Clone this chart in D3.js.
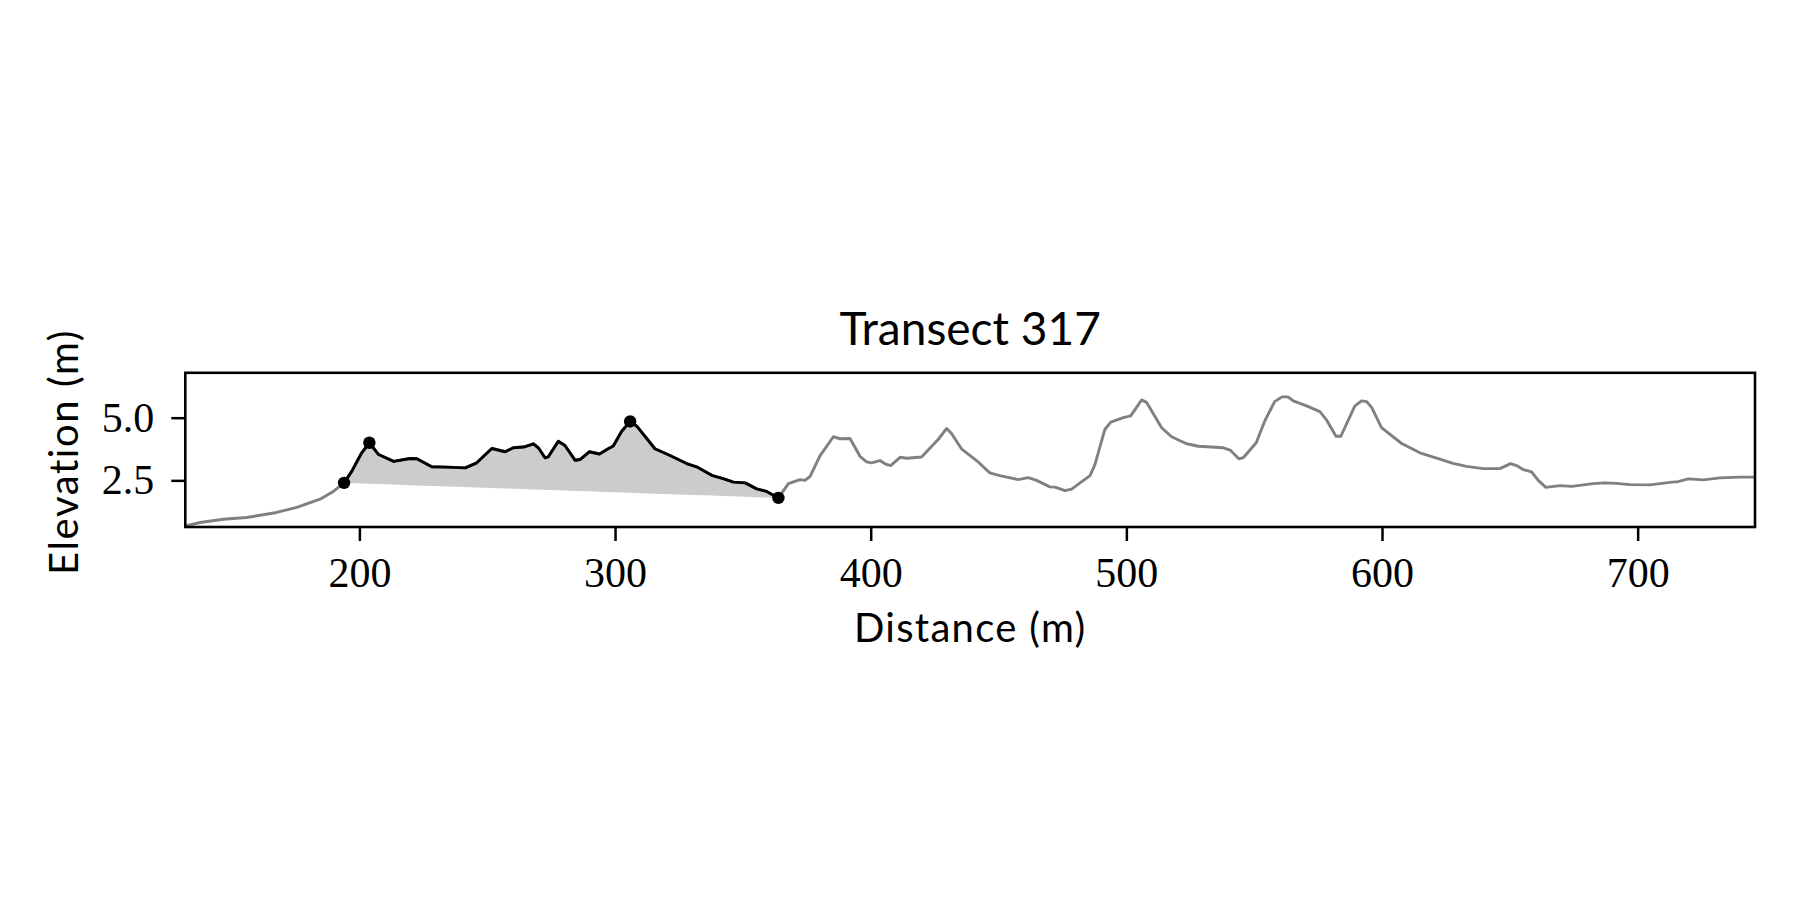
<!DOCTYPE html>
<html><head><meta charset="utf-8">
<script src="https://cdn.jsdelivr.net/npm/d3@7"></script>
<style>
body{margin:0;background:#fff;}
svg{display:block;}
</style></head>
<body>
<svg id="chart" width="1800" height="900"></svg>
<script>
// Transect profile: distance (m) and elevation (m)
const distance = [132.0,137.7,146.8,155.9,167.6,175.5,184.6,189.8,194.0,197.0,200.9,203.9,207.5,213.4,219.8,222.5,228.3,234.2,241.4,245.9,251.8,257.0,260.2,264.2,268.1,270.0,272.6,273.9,277.8,280.4,284.4,286.3,289.9,293.9,296.8,299.3,302.6,305.9,308.5,315.6,321.5,328.0,331.9,337.8,342.3,346.3,350.9,355.4,359.3,363.9,367.8,372.4,374.3,376.3,380.2,385.4,388.0,391.9,395.8,398.4,400.3,403.6,405.6,407.8,411.5,414.1,419.9,424.5,426.4,429.7,431.6,435.5,441.4,446.6,450.5,457.7,461.6,464.9,470.1,472.1,476.0,478.6,481.9,485.8,487.7,491.6,493.9,498.8,501.7,506.0,508.0,513.8,517.7,521.0,523.6,528.2,537.9,540.6,544.0,545.8,550.8,554.1,558.0,560.9,563.2,565.3,570.5,575.7,578.3,582.0,583.9,589.4,592.0,594.0,596.0,599.8,607.7,614.8,622.0,627.8,633.1,639.6,646.1,650.3,652.6,655.2,658.5,661.1,664.1,669.6,674.2,682.6,687.1,691.7,696.9,704.8,712.6,715.8,719.8,725.7,732.2,740.0,745.9];
const elevation = [0.68,0.82,0.95,1.02,1.22,1.42,1.75,2.06,2.40,2.86,3.60,4.00,3.53,3.26,3.37,3.36,3.04,3.03,3.00,3.20,3.77,3.64,3.80,3.83,3.96,3.80,3.40,3.44,4.06,3.89,3.30,3.33,3.64,3.55,3.73,3.87,4.46,4.85,4.66,3.76,3.49,3.17,3.04,2.70,2.57,2.43,2.40,2.16,2.06,1.80,2.37,2.53,2.50,2.66,3.49,4.24,4.16,4.17,3.46,3.24,3.20,3.29,3.16,3.09,3.42,3.38,3.43,3.93,4.13,4.57,4.37,3.76,3.29,2.80,2.69,2.53,2.61,2.50,2.24,2.23,2.09,2.15,2.40,2.69,3.13,4.53,4.82,5.00,5.07,5.71,5.60,4.60,4.24,4.08,3.96,3.86,3.80,3.71,3.36,3.41,4.00,4.86,5.64,5.83,5.83,5.67,5.47,5.24,4.91,4.26,4.26,5.47,5.67,5.64,5.40,4.60,3.97,3.60,3.37,3.18,3.06,2.97,2.97,3.17,3.09,2.93,2.84,2.50,2.22,2.29,2.26,2.37,2.40,2.38,2.33,2.32,2.42,2.45,2.56,2.52,2.60,2.63,2.63];
// Dune segment (start / end distance) and marked points (toe, crest, crest, heel)
const duneStart = 194.0;
const duneEnd = 363.9;
const markers = [194.0, 203.9, 305.9, 363.9];
const xTicks = [200, 300, 400, 500, 600, 700];
const yTicks = [2.5, 5.0];
const title = "Transect 317";
const xLabel = "Distance (m)";
const yLabel = "Elevation (m)";

const svg = d3.select("#chart");
const L = 185.3, R = 1755, T = 372.8, B = 527;
const x = d3.scaleLinear().domain([131.9, 745.9]).range([L, R]);
const y = d3.scaleLinear().domain([0.64, 6.79]).range([B, T]);

const pts = distance.map((d, i) => ({d, e: elevation[i]}));
const dune = pts.filter(p => p.d >= duneStart && p.d <= duneEnd);
const first = dune[0], last = dune[dune.length - 1];
const base = d => first.e + (last.e - first.e) * (d - first.d) / (last.d - first.d);

svg.append("defs").append("clipPath").attr("id", "clip")
  .append("rect").attr("x", L).attr("y", T).attr("width", R - L).attr("height", B - T);

const g = svg.append("g").attr("clip-path", "url(#clip)");

// fill between dune profile and toe-heel line
const area = d3.area().x(p => x(p.d)).y0(p => y(base(p.d))).y1(p => y(p.e));
g.append("path").datum(dune).attr("d", area).attr("fill", "#cccccc");

const line = d3.line().x(p => x(p.d)).y(p => y(p.e));
g.append("path").datum(pts).attr("d", line).attr("fill", "none")
  .attr("stroke", "#808080").attr("stroke-width", 2.9).attr("stroke-linejoin", "round");
g.append("path").datum(dune).attr("d", line).attr("fill", "none")
  .attr("stroke", "#000").attr("stroke-width", 2.9).attr("stroke-linejoin", "round");

const mk = markers.map(m => pts.find(p => p.d === m));
svg.append("g").selectAll("circle").data(mk).join("circle")
  .attr("cx", p => x(p.d)).attr("cy", p => y(p.e)).attr("r", 6.2).attr("fill", "#000");

// axes
const tickFont = "'Liberation Serif', 'Times New Roman', serif";
const xAxis = svg.append("g").attr("transform", `translate(0,${B})`)
  .call(d3.axisBottom(x).tickValues(xTicks).tickFormat(d3.format("d")).tickSize(14).tickSizeOuter(0).tickPadding(16));
const yAxis = svg.append("g").attr("transform", `translate(${L},0)`)
  .call(d3.axisLeft(y).tickValues(yTicks).tickFormat(d3.format(".1f")).tickSize(14).tickSizeOuter(0).tickPadding(17));
[xAxis, yAxis].forEach(a => {
  a.select(".domain").remove();
  a.selectAll(".tick line").attr("stroke", "#000").attr("stroke-width", 2.5);
  a.selectAll(".tick text").attr("fill", "#000").style("font-family", tickFont).style("font-size", "42px");
});

// frame
svg.append("rect").attr("x", L).attr("y", T).attr("width", R - L).attr("height", B - T)
  .attr("fill", "none").attr("stroke", "#000").attr("stroke-width", 2.6);

const sans = "Lato, 'Open Sans', sans-serif";
svg.append("text").attr("x", (L + R) / 2).attr("y", 345).attr("text-anchor", "middle")
  .style("font-family", sans).style("font-size", "46px").attr("fill", "#000").text(title);
svg.append("text").attr("x", (L + R) / 2).attr("y", 641.5).attr("text-anchor", "middle")
  .style("font-family", sans).style("font-size", "40px").style("letter-spacing", "1.3px").attr("fill", "#000").text(xLabel);
svg.append("text").attr("transform", `translate(78,${(T + B) / 2 + 2}) rotate(-90)`).attr("text-anchor", "middle")
  .style("font-family", sans).style("font-size", "40px").style("letter-spacing", "1.6px").attr("fill", "#000").text(yLabel);
</script>
</body></html>
